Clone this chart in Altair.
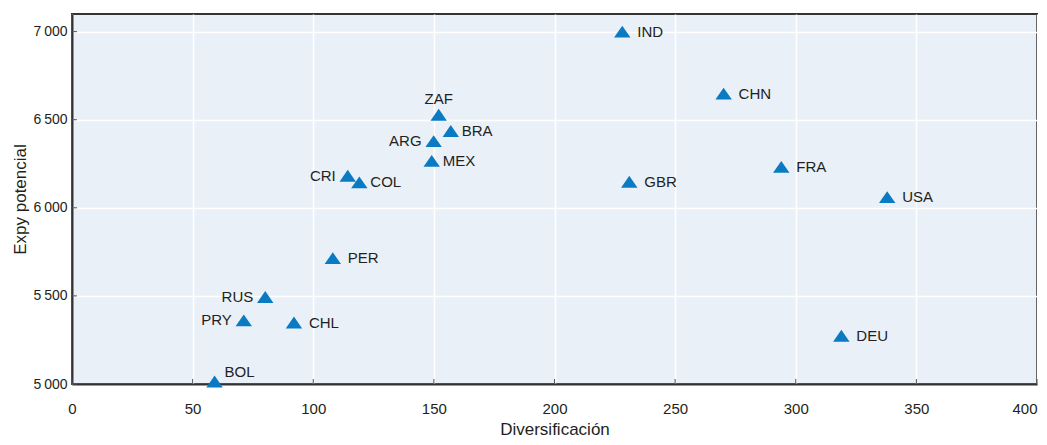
import altair as alt
import pandas as pd

countries = ["BOL", "PRY", "RUS", "CHL", "PER", "CRI", "COL", "ARG", "MEX", "ZAF",
             "BRA", "IND", "GBR", "CHN", "FRA", "USA", "DEU"]
diversificacion = [59.1, 71.2, 80.1, 92.0, 108.1, 114.3, 119.1, 149.9, 149.1, 152.0,
                   157.0, 228.1, 231.0, 270.1, 294.0, 337.9, 318.9]
expy = [5014, 5361, 5494, 5349, 5714, 6182, 6144, 6378, 6266, 6528,
        6436, 7000, 6148, 6648, 6232, 6061, 5274]
label_side = ["tr", "l", "l", "r", "r", "l", "rn", "l", "rn", "t",
              "rn", "r", "r", "r", "r", "r", "r"]

x_ticks = [0, 50, 100, 150, 200, 250, 300, 350, 400]
y_ticks = [5000, 5500, 6000, 6500, 7000]

df = pd.DataFrame({"pais": countries, "div": diversificacion, "expy": expy, "side": label_side})
xt = pd.DataFrame({"v": x_ticks})
yt = pd.DataFrame({"v": y_ticks})

FONT = "Liberation Sans"
TEXT = "#231f20"
BLUE = "#0a7bc2"
FRAME = "#333333"

xscale = alt.Scale(domain=[0, 400], nice=False, zero=False)
yscale = alt.Scale(domain=[5000, 7100], nice=False, zero=False)

x_enc = alt.X("div:Q", title="Diversificación", scale=xscale,
              axis=alt.Axis(values=x_ticks, ticks=False, labelPadding=17, titlePadding=5,
                            labelAlign=alt.ExprRef("datum.value == 400 ? 'right' : 'center'"),
                            labelFontSize=15, titleFontSize=17, titleFontWeight="normal"))
y_enc = alt.Y("expy:Q", title="Expy potencial", scale=yscale,
              axis=alt.Axis(values=y_ticks, ticks=False, labelPadding=5, titlePadding=4,
                            labelExpr="replace(format(datum.value, ','), ',', '\u2009')",
                            labelFontSize=14, titleFontSize=17, titleFontWeight="normal"))

base = alt.Chart(df)

points = base.mark_point(shape="M-1,0.72L1,0.72L0,-0.72Z", filled=True, size=270,
                         color=BLUE, opacity=1).encode(x=x_enc, y=y_enc)

xticks_in = alt.Chart(xt).mark_rule(color="#555555", strokeWidth=1).encode(
    x=alt.X("v:Q", scale=xscale),
    y=alt.value({"expr": "height - 5"}), y2=alt.value("height"))
yticks_in = alt.Chart(yt).mark_rule(color="#555555", strokeWidth=1).encode(
    y=alt.Y("v:Q", scale=yscale), x=alt.value(0), x2=alt.value(5))

def labels(side, **kw):
    return base.transform_filter(alt.datum.side == side).mark_text(
        font=FONT, fontSize=15, color=TEXT, baseline="middle", **kw
    ).encode(x="div:Q", y="expy:Q", text="pais:N")

chart = alt.layer(
    points,
    xticks_in,
    yticks_in,
    labels("r", align="left", dx=15),
    labels("rn", align="left", dx=11),
    labels("l", align="right", dx=-12),
    labels("t", align="center", dy=-16),
    labels("tr", align="left", dx=10, dy=-10),
).properties(
    width=1031, height=429,
    autosize=alt.AutoSizeParams(type="fit", contains="padding"),
    padding={"left": 3, "top": 6, "right": 1, "bottom": 0},
    background="#ffffff",
).configure_view(
    fill="#e9f0f8", stroke=FRAME, strokeWidth=2
).configure_axis(
    labelFont=FONT, titleFont=FONT, labelColor=TEXT, titleColor=TEXT,
    domainColor=FRAME, domainWidth=2,
    gridColor="#ffffff", gridWidth=1.5, gridOpacity=1
)

chart.save("out.html", embed_options={"renderer": "svg", "actions": False})
